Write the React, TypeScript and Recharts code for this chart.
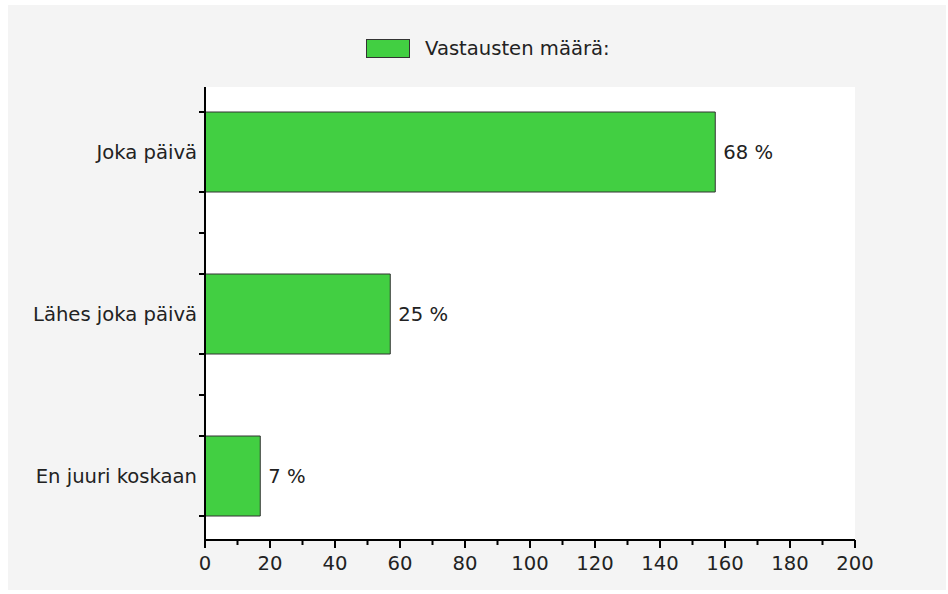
import React from 'react';
import { BarChart, Bar, XAxis, YAxis, CartesianGrid, LabelList } from 'recharts';

const categories = ['Joka päivä', 'Lähes joka päivä', 'En juuri koskaan'];
const answers = [157, 57, 17];
const xTicks = [0, 10, 20, 30, 40, 50, 60, 70, 80, 90, 100, 110, 120, 130, 140, 150, 160, 170, 180, 190, 200];

const seriesName = 'Vastausten määrä:';
const total = answers.reduce((a, b) => a + b, 0);
const data = categories.map((name, i) => ({ name, value: answers[i] }));

const FONT = '"DejaVu Sans", Verdana, sans-serif';
const FS = 19.6;
const GREEN = '#42cf42';
const BAR_SIZE = 80;
const BAND_HALF = 81;

function YTick(props: any) {
    const { x, y, payload, index } = props;
    const lx = x + 2;
    return (
        <g>
            <text x={x} y={y} dy={7} textAnchor="end" fontSize={FS} fontFamily={FONT} fill="#222">
                {payload.value}
            </text>
            <line x1={lx} x2={lx + 6} y1={y - BAR_SIZE / 2} y2={y - BAR_SIZE / 2} stroke="#000" strokeWidth={2} />
            <line x1={lx} x2={lx + 6} y1={y + BAR_SIZE / 2} y2={y + BAR_SIZE / 2} stroke="#000" strokeWidth={2} />
            {index < categories.length - 1 && (
                <line x1={lx} x2={lx + 6} y1={y + BAND_HALF} y2={y + BAND_HALF} stroke="#000" strokeWidth={2} />
            )}
        </g>
    );
}

function XTick(props: any) {
    const { x, y, payload } = props;
    const major = payload.value % 20 === 0;
    return (
        <g>
            <line x1={x} x2={x} y1={y} y2={y + (major ? 8 : 5)} stroke="#000" strokeWidth={2} />
            {major && (
                <text x={x} y={y + 30} textAnchor="middle" fontSize={FS} fontFamily={FONT} fill="#222">
                    {payload.value}
                </text>
            )}
        </g>
    );
}

export default function App() {
    return (
        <div style={{ position: 'absolute', left: 8, top: 5, width: 938, height: 585, background: '#f4f4f4' }}>
            <div
                style={{
                    position: 'absolute',
                    left: 358,
                    top: 32,
                    display: 'flex',
                    alignItems: 'center',
                    fontFamily: FONT,
                    fontSize: FS,
                    color: '#222',
                }}
            >
                <span style={{ display: 'inline-block', width: 42, height: 17, background: GREEN, border: '1px solid #333' }} />
                <span style={{ marginLeft: 15 }}>{seriesName}</span>
            </div>
            <BarChart
                width={938}
                height={585}
                data={data}
                layout="vertical"
                margin={{ top: 82, right: 91, left: 0, bottom: 0 }}
                barSize={BAR_SIZE}
            >
                <CartesianGrid fill="#ffffff" stroke="none" />
                <XAxis
                    type="number"
                    domain={[0, 200]}
                    ticks={xTicks}
                    interval={0}
                    height={50}
                    tickLine={false}
                    tickSize={0}
                    tickMargin={0}
                    axisLine={{ stroke: '#000', strokeWidth: 2 }}
                    tick={<XTick />}
                />
                <YAxis
                    type="category"
                    dataKey="name"
                    width={197}
                    padding={{ top: -16, bottom: -17 }}
                    tickLine={false}
                    tickSize={6}
                    tickMargin={2}
                    axisLine={{ stroke: '#000', strokeWidth: 2 }}
                    tick={<YTick />}
                />
                <Bar dataKey="value" name={seriesName} fill={GREEN} stroke="#333" strokeWidth={1} isAnimationActive={false}>
                    <LabelList
                        dataKey="value"
                        position="right"
                        offset={8}
                        fontSize={FS}
                        fontFamily={FONT}
                        fill="#222"
                        formatter={(v: any) => `${Math.round((Number(v) / total) * 100)} %`}
                    />
                </Bar>
            </BarChart>
        </div>
    );
}
